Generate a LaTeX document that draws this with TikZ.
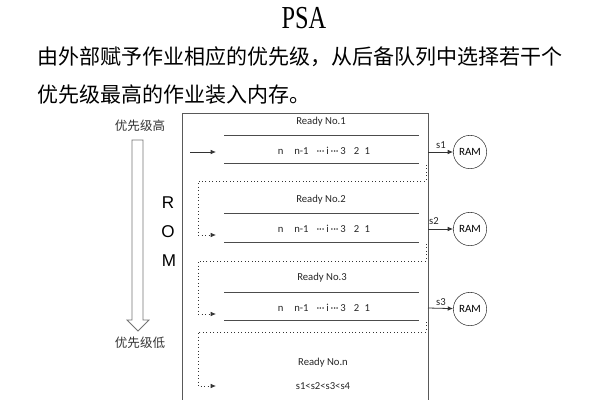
\documentclass[tikz,border=0pt]{standalone}
\usepackage{fontspec}
\setmainfont{Liberation Serif}
\newfontfamily\cjk{Noto Sans CJK SC}
\newfontfamily\calibri{Carlito}
\newfontfamily\arial{Liberation Sans}
\usetikzlibrary{arrows.meta}

\begin{document}
\begin{tikzpicture}[x=0.75pt, y=-0.75pt,
    frame/.style={draw=black!65, line width=0.6pt},
    rule/.style={draw=black!70, line width=0.6pt},
    ready/.style={font=\calibri\fontsize{8}{9}\selectfont, text=black!85},
    ram/.style={circle, draw=black!80, minimum size=25pt, inner sep=0pt, font=\calibri\fontsize{8.3}{9}\selectfont},
    feed/.style={draw=black!80, dotted, line width=0.6pt, -{Latex[length=4pt,width=3.5pt]}},
    emit/.style={draw=black!80, line width=0.6pt, -{Latex[length=4pt,width=3.5pt]}},
    prio/.style={font=\cjk\fontsize{9.4}{10}\selectfont, text=black!80},
    rom/.style={font=\arial\fontsize{12.8}{14}\selectfont}]
\useasboundingbox (0,0) rectangle (600,400);

% title and text
\node (title) at (304,18) {\fontsize{24}{26}\selectfont\scalebox{0.76}[1]{PSA}};
\node [anchor=west, inner sep=0pt] (line1) at (37,57)
    {\cjk\fontsize{15.75}{18}\selectfont 由外部赋予作业相应的优先级，从后备队列中选择若干个};
\node [anchor=west, inner sep=0pt] (line2) at (37,95)
    {\cjk\fontsize{15.75}{18}\selectfont 优先级最高的作业装入内存。};

% priority arrow
\node [prio] (high) at (140,126) {优先级高};
\node [prio] (low) at (140,343) {优先级低};
\draw [draw=black!55, line width=0.6pt] (132,140) -- (143,140) -- (143,320) -- (149,320)
    -- (138,331) -- (127,320) -- (132,320) -- cycle;

% ROM
\node [rom] (r) at (168,203) {R};
\node [rom] (o) at (168,232) {O};
\node [rom] (m) at (169,261) {M};

% memory frame
\draw [frame] (182,400) -- (182,113) -- (428,113) -- (428,400);

% ready queue 1
\node [ready] (ready1) at (321,122) {Ready No.1};
\draw [rule] (224,135) -- (419,135);
\node [ready] (q1) at (324,151) {n\hspace{8pt}n-1\hspace{6pt}···\,i\,···\,3\hspace{6pt}2\hspace{4pt}1};
\draw [rule] (224,163) -- (419,163);
\coordinate (src1) at (190,152);
\coordinate (in1) at (216,152);
\draw [emit] (src1) -- (in1);
\coordinate (o1) at (428,152);
\node [ram] (ram1) at (470,152) {RAM};
\draw [emit] (o1) -- (ram1);
\node [ready] (s1) at (441,145) {s1};

% ready queue 2
\coordinate (d1) at (426,165);
\coordinate (in2) at (216,235);
\draw [feed] (d1) -- (426,181) -- (198,181) -- (198,235) -- (in2);
\node [ready] (ready2) at (321,200) {Ready No.2};
\draw [rule] (224,213) -- (419,213);
\node [ready] (q2) at (324,229) {n\hspace{8pt}n-1\hspace{6pt}···\,i\,···\,3\hspace{6pt}2\hspace{4pt}1};
\draw [rule] (224,242) -- (419,242);
\coordinate (o2) at (428,229);
\node [ram] (ram2) at (470,229) {RAM};
\draw [emit] (o2) -- (ram2);
\node [ready] (s2) at (434,221) {s2};

% ready queue 3
\coordinate (d2) at (426,244);
\coordinate (in3) at (216,314);
\draw [feed] (d2) -- (426,261) -- (198,261) -- (198,314) -- (in3);
\node [ready] (ready3) at (322,278) {Ready No.3};
\draw [rule] (224,292) -- (419,292);
\node [ready] (q3) at (324,308) {n\hspace{8pt}n-1\hspace{6pt}···\,i\,···\,3\hspace{6pt}2\hspace{4pt}1};
\draw [rule] (224,320) -- (419,320);
\coordinate (o3) at (428,308);
\node [ram] (ram3) at (470,309) {RAM};
\draw [emit] (o3) -- (ram3);
\node [ready] (s3) at (441,302) {s3};

% ready queue n
\coordinate (d3) at (426,322);
\coordinate (inn) at (216,386);
\draw [feed] (d3) -- (426,332) -- (198,332) -- (198,386) -- (inn);
\node [ready] (readyn) at (323,363) {Ready No.n};
\node [ready] (order) at (323,386) {s1<s2<s3<s4};
\end{tikzpicture}
\end{document}
